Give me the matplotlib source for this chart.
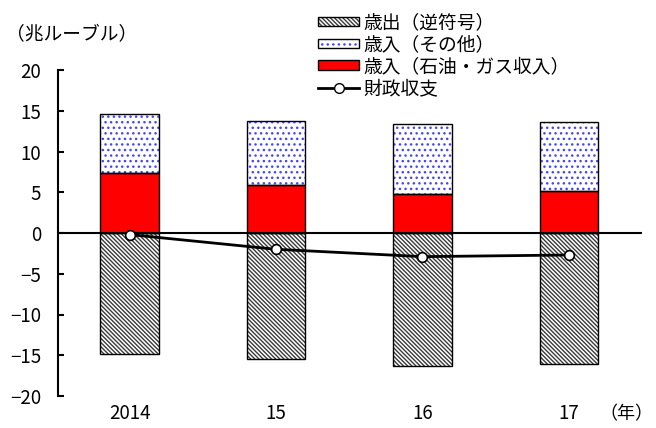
import numpy as np
import matplotlib
matplotlib.use("Agg")
import matplotlib.pyplot as plt
from matplotlib.patches import Patch
from matplotlib.lines import Line2D

plt.rcParams['font.family'] = ['Noto Sans CJK JP', 'DejaVu Sans']
plt.rcParams['hatch.linewidth'] = 1.0

# data (兆ルーブル)
years = ['2014', '15', '16', '17']
spending = [-14.8, -15.5, -16.3, -16.1]       # 歳出（逆符号）
rev_oil_gas = [7.4, 5.9, 4.8, 5.1]            # 歳入（石油・ガス収入）
rev_other = [7.2, 7.9, 8.6, 8.5]              # 歳入（その他）
balance = [-0.2, -2.0, -2.9, -2.7]            # 財政収支

HATCH_SP = '\\' * 8
DOT_COL = '#4444ff'

fig = plt.figure(figsize=(6.56, 4.28), dpi=100)
ax = fig.add_axes([58 / 656, 32 / 428, 584 / 656, 326 / 428])

x = np.arange(len(years))
w = 0.4

# spending (hatched, below zero)
ax.bar(x, spending, w, color='white', edgecolor='#3a3a3a', hatch=HATCH_SP, linewidth=0, zorder=2)
ax.bar(x, spending, w, fill=False, edgecolor='black', linewidth=1.0, zorder=3)

# oil & gas revenue
ax.bar(x, rev_oil_gas, w, color='#ff0000', edgecolor='black', linewidth=1.0, zorder=3)

# other revenue (blue dots)
ax.bar(x, rev_other, w, bottom=rev_oil_gas, color='white', edgecolor=DOT_COL,
       hatch='...', linewidth=0, zorder=2)
ax.bar(x, rev_other, w, bottom=rev_oil_gas, fill=False, edgecolor='black', linewidth=1.0, zorder=3)

ax.axhline(0, color='black', linewidth=1.5, zorder=4)

ax.plot(x, balance, color='black', linewidth=2.0, marker='o', markersize=7,
        markerfacecolor='white', markeredgecolor='black', markeredgewidth=1.2, zorder=5)

ax.set_xlim(-0.49, 3.5)
ax.set_ylim(-20, 20)
ax.set_yticks(np.arange(-20, 21, 5))
ax.set_xticks(x)
ax.set_xticklabels(years)

for s in ['top', 'right', 'bottom']:
    ax.spines[s].set_visible(False)
ax.spines['left'].set_linewidth(1.5)
ax.tick_params(axis='y', direction='in', length=4, width=1.5, pad=12, labelsize=13.5)
ax.tick_params(axis='x', length=0, pad=5, labelsize=13.5)

fig.text(6 / 656, 1 - 35 / 428, '（兆ルーブル）', fontsize=13.5, va='center', ha='left')
fig.text(653 / 656, 1 - 414 / 428, '（年）', fontsize=13, va='center', ha='right')

handles = [
    (Patch(facecolor='white', edgecolor='#3a3a3a', hatch=HATCH_SP, linewidth=0),
     Patch(fill=False, edgecolor='black', linewidth=1.0)),
    (Patch(facecolor='white', edgecolor=DOT_COL, hatch='...', linewidth=0),
     Patch(fill=False, edgecolor='black', linewidth=1.0)),
    Patch(facecolor='#ff0000', edgecolor='black', linewidth=1.0),
    Line2D([0], [0], color='black', linewidth=2.0, marker='o', markersize=7,
           markerfacecolor='white', markeredgecolor='black'),
]
labels = ['歳出（逆符号）', '歳入（その他）', '歳入（石油・ガス収入）', '財政収支']
fig.legend(handles, labels, loc='upper left', bbox_to_anchor=(318 / 656, 1 - 12 / 428),
           frameon=False, fontsize=13.5, handlelength=2.2, handleheight=0.4,
           handletextpad=0.2, labelspacing=0.05, borderpad=0, borderaxespad=0)

fig.savefig('out.png', dpi=100)
